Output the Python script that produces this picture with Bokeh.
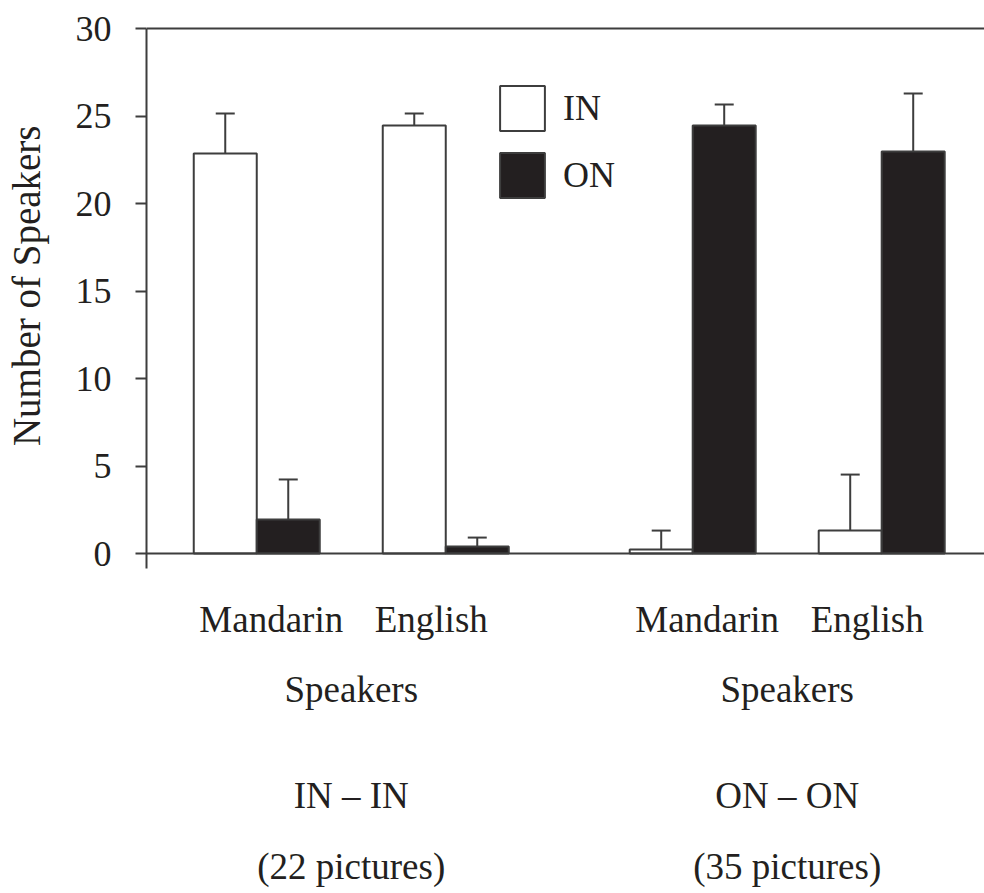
from bokeh.plotting import figure
from bokeh.models import (Range1d, Span, Whisker, TeeHead, ColumnDataSource,
                          Legend, LegendItem, FixedTicker, Title)
from bokeh.core.properties import value
from bokeh.embed import file_html
from bokeh.resources import INLINE

# ---- data -------------------------------------------------------------
conditions = ["IN – IN", "ON – ON"]
picture_counts = ["(22 pictures)", "(35 pictures)"]
speaker_groups = ["Mandarin", "English"]
speakers_word = "Speakers"

# order: (IN–IN, Mandarin), (IN–IN, English), (ON–ON, Mandarin), (ON–ON, English)
in_means = [22.86, 24.46, 0.23, 1.31]
in_errors = [2.29, 0.69, 1.08, 3.20]
on_means = [1.94, 0.40, 24.46, 22.97]
on_errors = [2.29, 0.51, 1.20, 3.32]

y_ticks = [0, 5, 10, 15, 20, 25, 30]
y_label = "Number of Speakers"

# ---- layout -----------------------------------------------------------
W, H = 984, 893
FRAME_LEFT, FRAME_TOP = 146, 26
ZERO_PX = 553            # screen row of y = 0
PX_PER_Y = 17.5          # pixels per speaker
BAR_PX = 63              # one x unit = one bar width
AXIS_TAIL_PX = 15        # y axis runs a little below zero

y_end = (ZERO_PX - FRAME_TOP) / PX_PER_Y
y_start = -(H - ZERO_PX) / PX_PER_Y
x_end = (W - FRAME_LEFT) / BAR_PX

FIRST_PAIR = 1.75        # centre of the first IN/ON pair
PAIR_STEP = 3.0          # Mandarin -> English within a condition
GROUP_STEP = 6.92        # IN–IN -> ON–ON
SUBLABEL_OFF = 1.27      # language label offset from condition centre

INK = "#231f20"
EDGE = "#3d3d3d"
FONT = "Liberation Serif"

pair_centers = []
for g in range(len(conditions)):
    for s in range(len(speaker_groups)):
        pair_centers.append(FIRST_PAIR + GROUP_STEP * g + PAIR_STEP * s)
group_centers = [(pair_centers[2 * g] + pair_centers[2 * g + 1]) / 2
                 for g in range(len(conditions))]

in_x = [c - 0.5 for c in pair_centers]
on_x = [c + 0.5 for c in pair_centers]

p = figure(width=W, height=H, output_backend="svg", toolbar_location=None,
           x_range=Range1d(0, x_end), y_range=Range1d(y_start, y_end),
           min_border_left=FRAME_LEFT, min_border_right=0,
           min_border_top=FRAME_TOP, min_border_bottom=0)
p.outline_line_color = None
p.xgrid.visible = False
p.ygrid.visible = False
p.xaxis.visible = False
p.background_fill_color = "white"
p.border_fill_color = "white"

# baseline and top rule
for loc in (0, 30):
    p.add_layout(Span(location=loc, dimension="width", line_color=EDGE, line_width=2))

in_src = ColumnDataSource(dict(x=in_x, top=in_means,
                               hi=[m + e for m, e in zip(in_means, in_errors)]))
on_src = ColumnDataSource(dict(x=on_x, top=on_means,
                               hi=[m + e for m, e in zip(on_means, on_errors)]))

r_in = p.vbar(x="x", top="top", bottom=0, width=1.0, source=in_src,
              fill_color="white", line_color=EDGE, line_width=2)
r_on = p.vbar(x="x", top="top", bottom=0, width=1.0, source=on_src,
              fill_color=INK, line_color=EDGE, line_width=2)

for src in (in_src, on_src):
    w = Whisker(base="x", lower="top", upper="hi", source=src, dimension="height",
                lower_head=None,
                upper_head=TeeHead(size=19, line_color=EDGE, line_width=2),
                line_color=EDGE, line_width=2, level="glyph")
    p.add_layout(w)

# y axis
ax = p.yaxis[0]
ax.ticker = FixedTicker(ticks=y_ticks)
ax.bounds = (-AXIS_TAIL_PX / PX_PER_Y, 30)
ax.axis_line_color = EDGE
ax.axis_line_width = 2
ax.major_tick_line_color = EDGE
ax.major_tick_line_width = 2
ax.major_tick_out = 11
ax.major_tick_in = 0
ax.minor_tick_out = 0
ax.minor_tick_in = 0
ax.major_label_text_font = FONT
ax.major_label_text_font_size = "36px"
ax.major_label_text_color = INK
ax.major_label_standoff = 24
# a blank, tiny axis label only reserves a gap between tick labels and the title
ax.axis_label = " "
ax.axis_label_text_font_size = "1px"
ax.axis_label_standoff = 21

# axis title as a side title, anchored near the top so it sits beside 0–30
p.add_layout(Title(text=y_label, align="right", offset=99,
                   text_font=FONT, text_font_size="39px", text_font_style="normal",
                   text_color=INK, standoff=0), "left")

# category labels under the bars
def to_y(px):
    return (ZERO_PX - px) / PX_PER_Y

tx, ty, tt = [], [], []
for g, gc in enumerate(group_centers):
    tx += [gc - SUBLABEL_OFF, gc + SUBLABEL_OFF, gc, gc, gc]
    ty += [to_y(619), to_y(619), to_y(689), to_y(795), to_y(866)]
    tt += [speaker_groups[0], speaker_groups[1], speakers_word,
           conditions[g], picture_counts[g]]
p.text(x=tx, y=ty, text=tt, text_font=value(FONT), text_font_size=value("37px"),
       text_color=INK, text_align="center", text_baseline="alphabetic")

# legend glyphs are drawn inset by 10% on each side
legend = Legend(items=[LegendItem(label="IN", renderers=[r_in]),
                       LegendItem(label="ON", renderers=[r_on])],
                location=(494 - FRAME_LEFT, H - 203),
                glyph_width=56, glyph_height=56, spacing=11, padding=0, margin=0,
                label_standoff=13, label_text_font=FONT,
                label_text_font_size="36px", label_text_color=INK,
                border_line_color=None, background_fill_alpha=0)
p.add_layout(legend)

open("out.html", "w").write(file_html(p, INLINE))
